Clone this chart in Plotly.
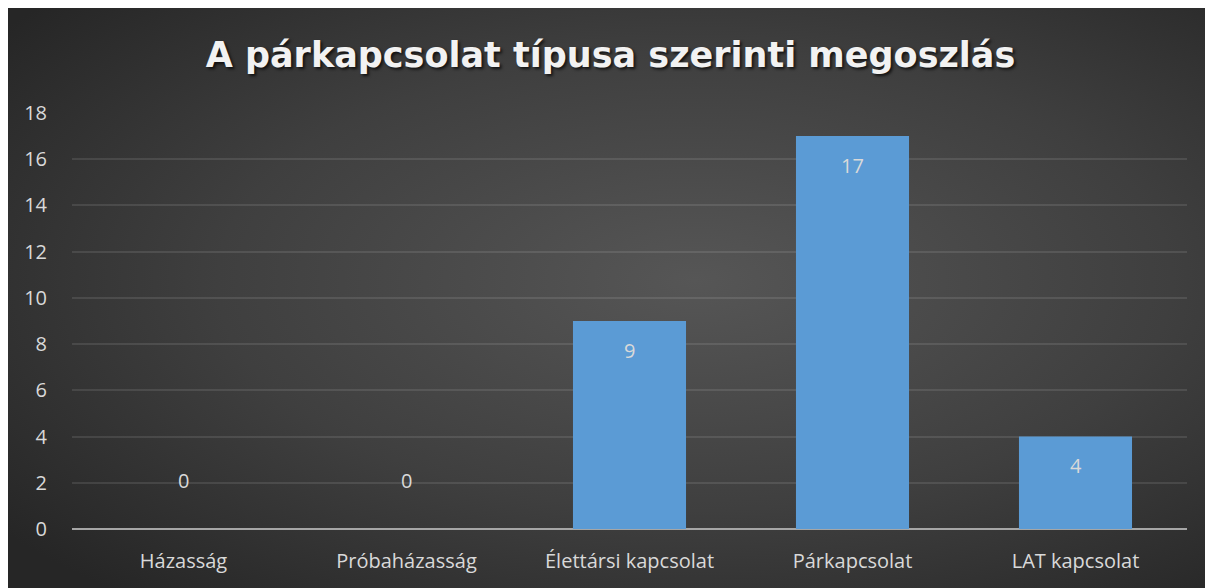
import base64
import plotly.graph_objects as go

categories = ["Házasság", "Próbaházasság", "Élettársi kapcsolat", "Párkapcsolat", "LAT kapcsolat"]
values = [0, 0, 9, 17, 4]
y_ticks = [0, 2, 4, 6, 8, 10, 12, 14, 16, 18]
title_text = "A párkapcsolat típusa szerinti megoszlás"

W, H = 1205, 580
L, R, T, B = 64, 26, 105, 59
pw, ph = W - L - R, H - T - B

svg = f"""<svg xmlns='http://www.w3.org/2000/svg' width='{W}' height='{H}' viewBox='0 0 {W} {H}' preserveAspectRatio='none'>
<defs><radialGradient id='g' cx='0.57' cy='0.47' r='0.72' gradientUnits='objectBoundingBox'>
<stop offset='0' stop-color='#565656'/><stop offset='0.55' stop-color='#3f3f3f'/><stop offset='1' stop-color='#262626'/></radialGradient></defs>
<rect width='{W}' height='{H}' fill='url(#g)'/></svg>"""
uri = "data:image/svg+xml;base64," + base64.b64encode(svg.encode()).decode()

fig = go.Figure()
fig.add_trace(go.Bar(
    x=categories, y=values,
    marker=dict(color="#5b9bd5", line=dict(width=0)),
    width=0.507,
    hoverinfo="skip",
))

for c, v in zip(categories, values):
    fig.add_annotation(
        x=c, y=v, text=str(v), showarrow=False,
        yanchor="middle", yshift=(-29 if v > 0 else 49),
        font=dict(family="Open Sans", size=20, color="#d9d9d9"),
    )

fig.add_layout_image(
    source=uri, xref="paper", yref="paper",
    x=-L / pw, y=(H - B) / ph,
    sizex=W / pw, sizey=H / ph,
    xanchor="left", yanchor="top", sizing="stretch", layer="below",
)

fig.update_layout(
    width=W, height=H,
    margin=dict(l=L, r=R, t=T, b=B),
    paper_bgcolor="#333333",
    plot_bgcolor="rgba(0,0,0,0)",
    showlegend=False,
    title=dict(
        text=title_text, x=602.5 / W, xanchor="center", y=1 - 47 / H, yanchor="middle",
        font=dict(family="DejaVu Sans", size=35, color="#f2f2f2", weight="bold",
                  shadow="2px 2px 3px rgba(0,0,0,0.7)"),
    ),
    xaxis=dict(
        showgrid=False, showline=False, zeroline=False,
        tickfont=dict(family="Open Sans", size=20, color="#d9d9d9"),
        ticks="", ticklabelstandoff=18,
    ),
    yaxis=dict(
        range=[0, 18], tickvals=y_ticks,
        showgrid=True, gridcolor="rgba(255,255,255,0.10)", gridwidth=1.5,
        zeroline=True, zerolinecolor="#a6a6a6", zerolinewidth=2,
        showline=False,
        tickfont=dict(family="Open Sans", size=20, color="#d9d9d9"),
        ticks="", ticklabelstandoff=24,
    ),
)

fig.write_html("out.html")
